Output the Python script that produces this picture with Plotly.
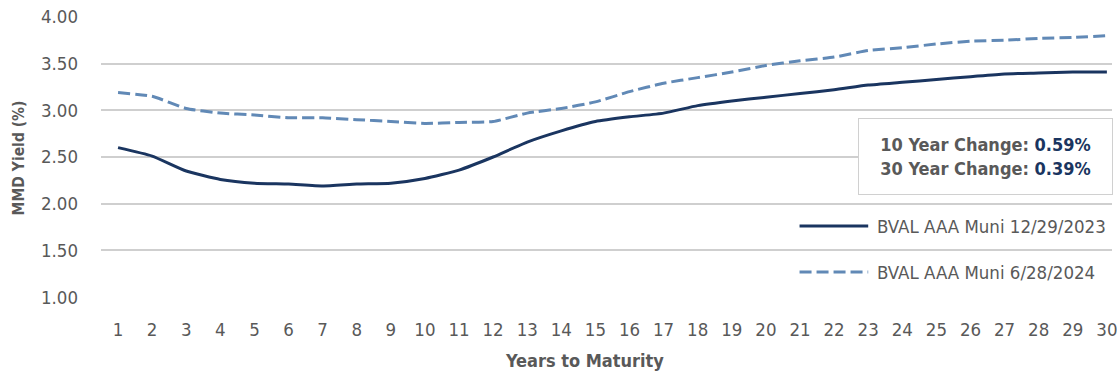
import plotly.graph_objects as go

# Yield curve data
years = list(range(1, 31))
tick_labels = [str(y) for y in years]
bval_2023 = [2.60, 2.51, 2.35, 2.26, 2.22, 2.21, 2.19, 2.21, 2.22, 2.27,
             2.36, 2.50, 2.66, 2.78, 2.88, 2.93, 2.97, 3.05, 3.10, 3.14,
             3.18, 3.22, 3.27, 3.30, 3.33, 3.36, 3.39, 3.40, 3.41, 3.41]
bval_2024 = [3.19, 3.15, 3.02, 2.97, 2.95, 2.92, 2.92, 2.90, 2.88, 2.86,
             2.87, 2.88, 2.97, 3.02, 3.09, 3.20, 3.29, 3.35, 3.41, 3.48,
             3.53, 3.57, 3.64, 3.67, 3.71, 3.74, 3.75, 3.77, 3.78, 3.80]
series_names = ["BVAL AAA Muni 12/29/2023", "BVAL AAA Muni 6/28/2024"]
change_10y = "0.59%"
change_30y = "0.39%"

FONT = "DejaVu Sans Condensed, DejaVu Sans, sans-serif"
GRAY = "#595959"
NAVY = "#1A3560"
STEEL = "#6189B6"

W, H = 1117, 375
ML, MT, MB = 101, 16, 77
PW, PH = W - ML, H - MT - MB

fig = go.Figure()
fig.add_trace(go.Scatter(
    x=years, y=bval_2023, mode="lines", name=series_names[0],
    line=dict(color=NAVY, width=3, shape="spline", smoothing=0.5),
))
fig.add_trace(go.Scatter(
    x=years, y=bval_2024, mode="lines", name=series_names[1],
    line=dict(color=STEEL, width=3, dash="12px,5px", shape="spline", smoothing=0.5),
))

fig.update_layout(
    width=W, height=H,
    margin=dict(l=ML, r=0, t=MT, b=MB, pad=0),
    paper_bgcolor="white", plot_bgcolor="white",
    showlegend=False,
    font=dict(family=FONT, color=GRAY, size=18),
)
fig.update_xaxes(
    range=[0.5, 30.15], tickmode="array", tickvals=years, ticktext=tick_labels,
    showgrid=False, zeroline=False, showline=False, ticks="",
    ticklabeloverflow="allow", ticklabelstandoff=18,
    tickfont=dict(size=18.5, color=GRAY),
)
fig.update_yaxes(
    range=[0.99, 4.01], tickmode="array", tickvals=[1, 1.5, 2, 2.5, 3, 3.5, 4],
    ticktext=["1.00", "1.50", "2.00", "2.50", "3.00", "3.50", "4.00"],
    showgrid=True, gridcolor="#CFCFCF", gridwidth=2,
    zeroline=False, showline=False, ticks="",
    ticklabelstandoff=22, tickfont=dict(size=18.5, color=GRAY),
)

def px_x(p):
    return (p - ML) / PW

def px_y(p):
    return (H - MB - p) / PH

# Axis titles
fig.add_annotation(text="<b>MMD Yield (%)</b>", x=px_x(19), y=px_y(158),
                   xref="paper", yref="paper", showarrow=False, textangle=-90,
                   font=dict(size=15.5, color=GRAY), xanchor="center", yanchor="middle")
fig.add_annotation(text="<b>Years to Maturity</b>", x=px_x(587), y=px_y(360),
                   xref="paper", yref="paper", showarrow=False,
                   font=dict(size=18, color=GRAY), xanchor="center", yanchor="middle")

# Change summary box
fig.add_annotation(
    text=(f"<b>10 Year Change: <span style='color:{NAVY}'>{change_10y}</span></b><br>"
          f"<b>30 Year Change: <span style='color:{NAVY}'>{change_30y}</span></b>"),
    x=px_x(862), y=px_y(118), xref="paper", yref="paper",
    xanchor="left", yanchor="top", showarrow=False,
    width=251, height=73, align="center", valign="middle",
    bgcolor="white", bordercolor="#D0D0D0", borderwidth=1,
    font=dict(size=18, color=GRAY),
)

# Legend entries
legend_rows = [(226, NAVY, "solid"), (272, STEEL, "12px,5px")]
for (yy, col, dash), name in zip(legend_rows, series_names):
    fig.add_shape(type="line", xref="paper", yref="paper",
                  x0=px_x(803), x1=px_x(872), y0=px_y(yy), y1=px_y(yy),
                  line=dict(color=col, width=3, dash=dash))
    fig.add_annotation(text=name, x=px_x(879), y=px_y(yy), xref="paper", yref="paper",
                       xanchor="left", yanchor="middle", showarrow=False,
                       font=dict(size=18.5, color=GRAY))

fig.write_html("out.html")
